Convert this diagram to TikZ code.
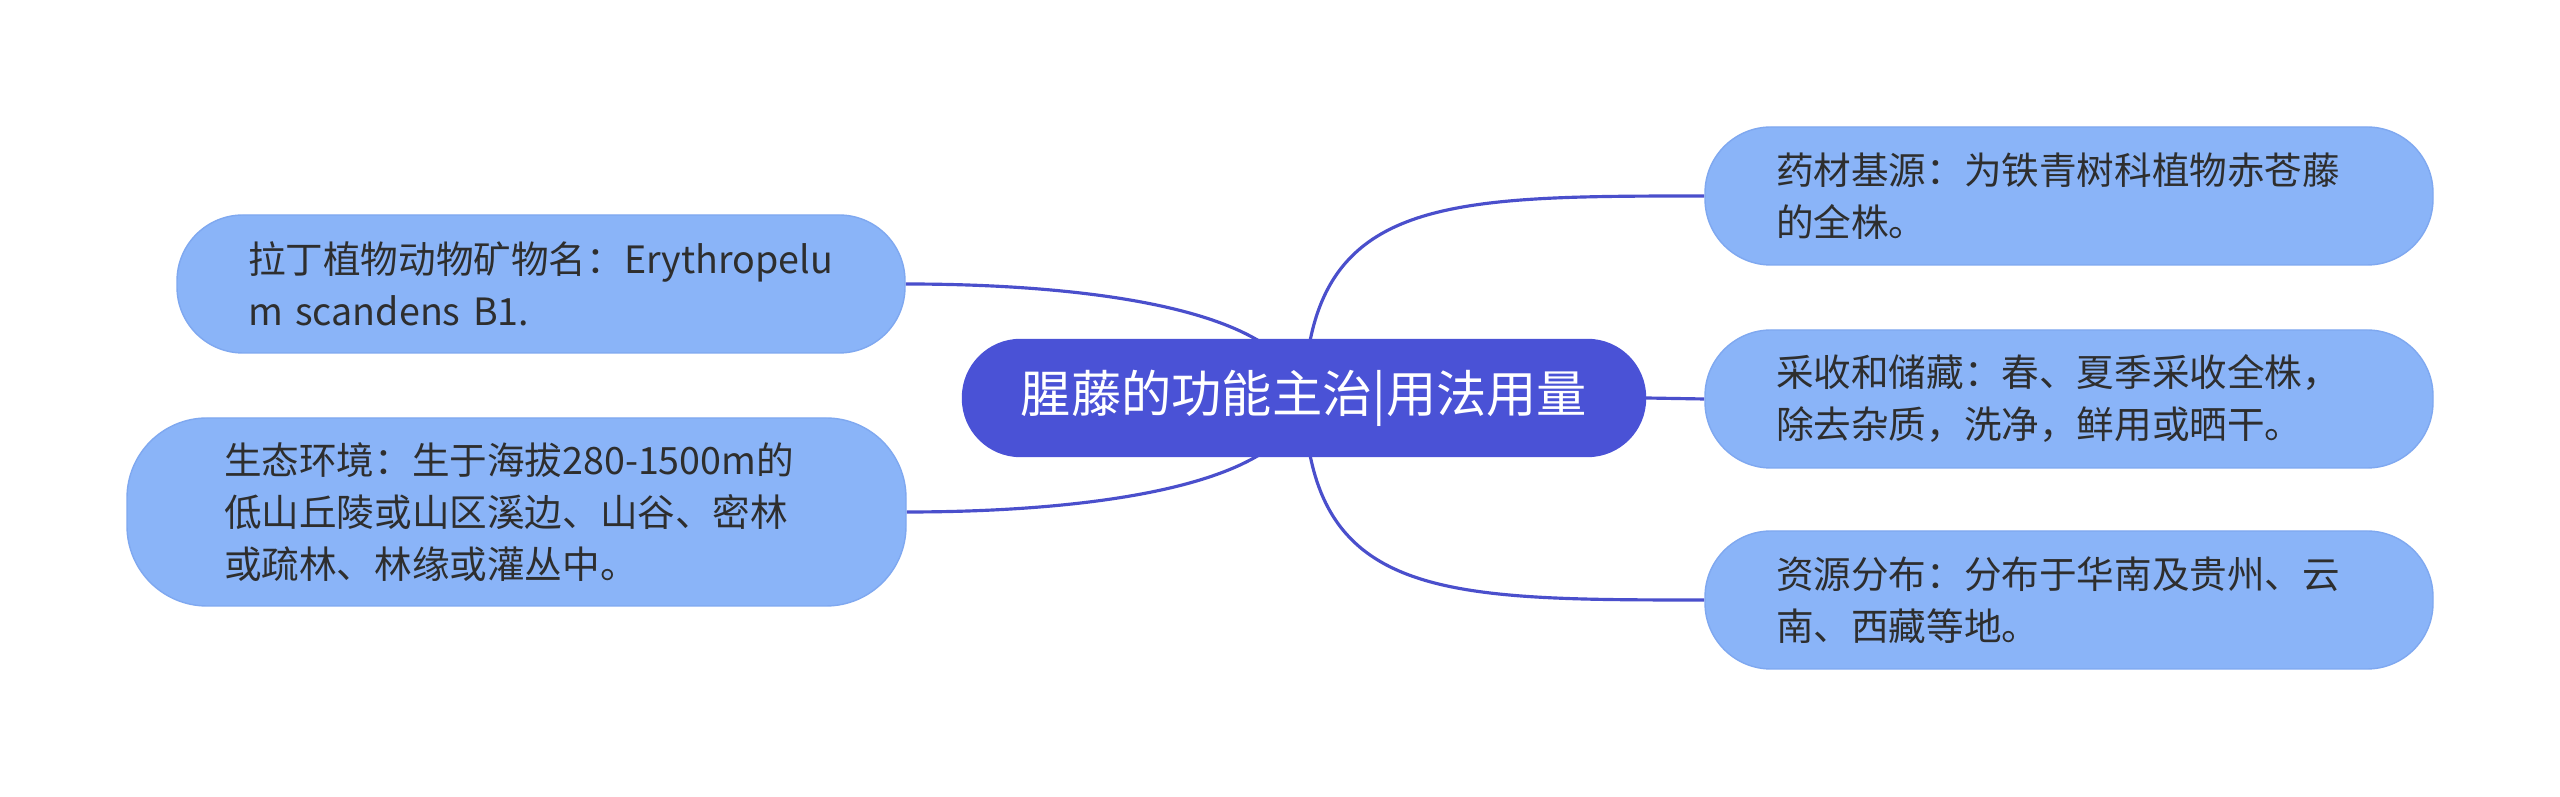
\documentclass[tikz,border=0pt]{standalone}
\usepackage{fontspec}
\newfontfamily\cjk{Noto Sans CJK SC}
\usepackage{xcolor}
\usetikzlibrary{backgrounds}
\definecolor{rootblue}{HTML}{4A52D6}
\definecolor{leafblue}{HTML}{8AB4F8}
\definecolor{leafedge}{HTML}{7FA8F0}
\definecolor{linkblue}{HTML}{4A4FCC}
\definecolor{inkgray}{HTML}{2E2E2E}
\exhyphenpenalty=10000
\tikzset{%
	rootbox/.style={
		rectangle,
		rounded corners=0.58cm,
		fill=rootblue,
		draw=rootblue,
		text=white,
		minimum width=6.83cm,
		minimum height=1.17cm,
		font=\cjk\fontsize{14.3}{17}\selectfont
	},
	leafbox/.style={
		rectangle,
		rounded corners=0.66cm,
		fill=leafblue,
		draw=leafedge,
		line width=0.4pt,
		text=inkgray,
		align=left,
		inner xsep=0.71cm,
		inner ysep=0cm,
		text width=5.86cm,
		minimum height=1.38cm,
		font=\cjk\fontsize{10.7}{14.8}\selectfont
	},
	branch/.style={
		draw=linkblue,
		line width=0.9pt
	},
}

\begin{document}
\begin{tikzpicture}
			\useasboundingbox (0,0) rectangle (25.6,7.97);
			
			% Central topic
			\node[rootbox] (root) at (13.04,3.99) {腥藤的功能主治|用法用量};
			
			% Left branches
			\node[leafbox] (latin) at (5.41,5.13) {拉丁植物动物矿物名：Erythropelu\\m scandens B1.};
			\node[leafbox, rounded corners=0.8cm, inner xsep=0.97cm, text width=5.85cm, minimum height=1.88cm] (habitat) at (5.165,2.85) {生态环境：生于海拔280-1500m的\\低山丘陵或山区溪边、山谷、密林\\或疏林、林缘或灌丛中。};
			
			% Right branches
			\node[leafbox] (source) at (20.69,6.01) {药材基源：为铁青树科植物赤苍藤\\的全株。};
			\node[leafbox] (harvest) at (20.69,3.98) {采收和储藏：春、夏季采收全株，\\除去杂质，洗净，鲜用或晒干。};
			\node[leafbox] (spread) at (20.69,1.97) {资源分布：分布于华南及贵州、云\\南、西藏等地。};
			
			% Connectors behind the nodes
			\begin{pgfonlayer}{background}
			\path[fill=white] (0,0) rectangle (25.6,7.97);
			\draw[branch] (latin.east) .. controls (10.8,5.13) and (12.9,4.9) .. (root.center);
			\draw[branch] (habitat.east) .. controls (10.8,2.85) and (12.9,3.08) .. (root.center);
			\draw[branch] (root.center) .. controls (13.1,6.0) and (14.4,6.01) .. (source.west);
			\draw[branch] (root.east) -- (harvest.west);
			\draw[branch] (root.center) .. controls (13.1,1.98) and (14.4,1.97) .. (spread.west);
			\end{pgfonlayer}
			
\end{tikzpicture}
\end{document}
